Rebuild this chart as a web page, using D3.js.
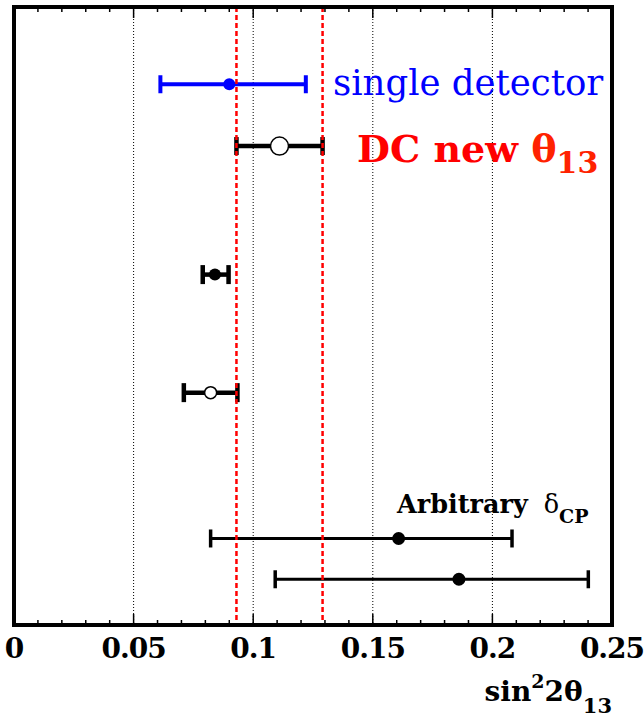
<!DOCTYPE html>
<html>
<head>
<meta charset="utf-8">
<script src="https://cdn.jsdelivr.net/npm/d3@7"></script>
<style>
  body { margin: 0; background: #fff; }
  svg { display: block; }
</style>
</head>
<body>
<div id="chart"></div>
<script>
// measurements of sin^2 2theta13, top row to bottom row
const rowPos  = [87.5, 77.5, 56.7, 37.6, 14.0, 7.4];   // vertical position (0-100 frame units)
const central = [0.090, 0.111, 0.084, 0.0822, 0.1608, 0.186];
const lower   = [0.0612, 0.093, 0.0789, 0.0710, 0.0822, 0.1092];
const upper   = [0.122, 0.129, 0.0897, 0.0934, 0.2082, 0.2401];

// DC new theta13 band edges
const bandEdges = [0.093, 0.129];

const xTicks = [0, 0.05, 0.1, 0.15, 0.2, 0.25];
const xTickLabels = ["0", "0.05", "0.1", "0.15", "0.2", "0.25"];

// drawing style per row
const rowStyle = [
  {color: "#0000ff", lw: 4, cap: 18, capW: 4, r: 6, open: false},
  {color: "#000000", lw: 4.5, cap: 18, capW: 4.5, r: 9, open: true},
  {color: "#000000", lw: 4.5, cap: 19, capW: 4.5, r: 6, open: false},
  {color: "#000000", lw: 4.5, cap: 19, capW: 4.5, r: 6, open: true},
  {color: "#000000", lw: 3, cap: 18, capW: 3.5, r: 6.5, open: false},
  {color: "#000000", lw: 3, cap: 18, capW: 3.5, r: 6.5, open: false}
];

const serif = "'DejaVu Serif', serif";

const margin = {top: 7, right: 32, bottom: 95, left: 14},
    width = 644 - margin.left - margin.right,
    height = 720 - margin.top - margin.bottom;

const svg = d3.select("#chart")
    .append("svg")
    .attr("width", 644)
    .attr("height", 720)
    .append("g")
    .attr("transform", `translate(${margin.left},${margin.top})`);

const x = d3.scaleLinear().domain([0, 0.25]).range([0, width]);
const y = d3.scaleLinear().domain([0, 100]).range([height, 0]);

// dotted grid at the major ticks
svg.append("g")
    .selectAll("line")
    .data(xTicks.slice(1, -1))
    .join("line")
    .attr("x1", d => x(d)).attr("x2", d => x(d))
    .attr("y1", 0).attr("y2", height)
    .attr("stroke", "#000")
    .attr("stroke-width", 1)
    .attr("stroke-dasharray", "1,2");

// minor + major ticks, top and bottom
const minor = d3.range(0, 0.2501, 0.01).map(d => +d.toFixed(2));
const ticks = svg.append("g");
ticks.selectAll(".tb")
    .data(minor)
    .join("line")
    .attr("class", "tb")
    .attr("x1", d => x(d)).attr("x2", d => x(d))
    .attr("y1", height)
    .attr("y2", (d, i) => height - (i % 5 === 0 ? 11 : 5))
    .attr("stroke", "#000").attr("stroke-width", 1.5);
ticks.selectAll(".tt")
    .data(minor)
    .join("line")
    .attr("class", "tt")
    .attr("x1", d => x(d)).attr("x2", d => x(d))
    .attr("y1", 0)
    .attr("y2", (d, i) => (i % 5 === 0 ? 11 : 5))
    .attr("stroke", "#000").attr("stroke-width", 1.5);

// error bars
const rows = central.map((c, i) => ({c: c, lo: lower[i], hi: upper[i], y: rowPos[i], s: rowStyle[i]}));
const bars = svg.append("g").selectAll("g").data(rows).join("g");

bars.append("line")
    .attr("x1", d => x(d.lo)).attr("x2", d => x(d.hi))
    .attr("y1", d => y(d.y)).attr("y2", d => y(d.y))
    .attr("stroke", d => d.s.color)
    .attr("stroke-width", d => d.s.lw);

bars.selectAll(".cap")
    .data(d => [d.lo, d.hi].map(v => ({v: v, d: d})))
    .join("line")
    .attr("class", "cap")
    .attr("x1", e => x(e.v)).attr("x2", e => x(e.v))
    .attr("y1", e => y(e.d.y) - e.d.s.cap / 2)
    .attr("y2", e => y(e.d.y) + e.d.s.cap / 2)
    .attr("stroke", e => e.d.s.color)
    .attr("stroke-width", e => e.d.s.capW);

bars.append("circle")
    .attr("cx", d => x(d.c))
    .attr("cy", d => y(d.y))
    .attr("r", d => d.s.r)
    .attr("fill", d => d.s.open ? "#fff" : d.s.color)
    .attr("stroke", d => d.s.color)
    .attr("stroke-width", d => d.s.open ? 1.5 : 0);

// red dashed band edges
svg.append("g")
    .selectAll("line")
    .data(bandEdges)
    .join("line")
    .attr("x1", d => x(d)).attr("x2", d => x(d))
    .attr("y1", 0).attr("y2", height)
    .attr("stroke", "#ff0000")
    .attr("stroke-width", 2.5)
    .attr("stroke-dasharray", "5,3");

// frame
svg.append("rect")
    .attr("x", 0).attr("y", 0)
    .attr("width", width).attr("height", height)
    .attr("fill", "none")
    .attr("stroke", "#000")
    .attr("stroke-width", 4);

// tick labels
svg.append("g")
    .selectAll("text")
    .data(xTicks)
    .join("text")
    .attr("x", d => x(d))
    .attr("y", height + 33)
    .attr("text-anchor", "middle")
    .style("font-family", serif)
    .style("font-weight", "bold")
    .style("font-size", "28px")
    .style("letter-spacing", "-1px")
    .text((d, i) => xTickLabels[i]);

// axis title
const title = svg.append("text")
    .attr("x", width)
    .attr("y", height + 76)
    .attr("text-anchor", "end")
    .style("font-family", serif)
    .style("font-weight", "bold")
    .style("font-size", "28px");
title.append("tspan").text("sin");
title.append("tspan").attr("dy", -13).style("font-size", "19px").text("2");
title.append("tspan").attr("dy", 13).text("2θ");
title.append("tspan").attr("dy", 12).style("font-size", "21px").text("13");

// annotations
svg.append("text")
    .attr("x", 319)
    .attr("y", 88)
    .style("font-family", serif)
    .style("font-size", "35.5px")
    .style("fill", "#0000ff")
    .text("single detector");

const dc = svg.append("text")
    .attr("x", 343)
    .attr("y", 155)
    .style("font-family", serif)
    .style("font-weight", "bold")
    .style("font-size", "38px")
    .style("fill", "#ff0000");
dc.append("tspan").text("DC new ");
dc.append("tspan").style("fill", "#ff2200").text("θ");
dc.append("tspan").attr("dy", 11).style("fill", "#ff2200").style("font-size", "30px").text("13");

const arb = svg.append("text")
    .attr("x", 383)
    .attr("y", 505.5)
    .style("font-family", serif)
    .style("font-size", "25.5px");
arb.append("tspan").style("font-weight", "bold").text("Arbitrary");
arb.append("tspan").attr("dx", 16).text("δ");
arb.append("tspan").attr("dy", 10).style("font-weight", "bold").style("font-size", "19px").text("CP");
</script>
</body>
</html>
